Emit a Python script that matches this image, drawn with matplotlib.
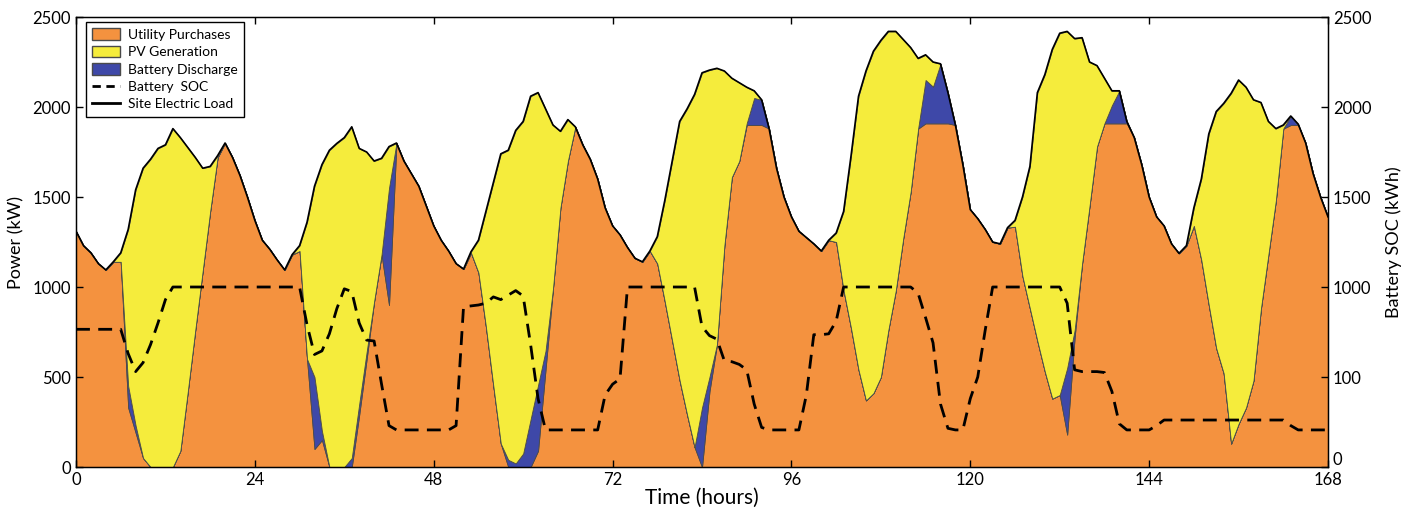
import numpy as np
import matplotlib
matplotlib.use('Agg')
import matplotlib.pyplot as plt
import matplotlib.transforms as mtransforms
from matplotlib.patches import Patch
from matplotlib.lines import Line2D

plt.rcParams['font.family'] = ['Lato', 'DejaVu Sans']

# hourly data, 0..168 h
hours = np.arange(169)

# site electric load (kW)
load = [
    1310, 1230, 1190, 1130, 1095, 1140, 1190, 1320, 1540, 1660, 1710, 1770,
    1790, 1880, 1830, 1775, 1720, 1660, 1670, 1730, 1800, 1720, 1620, 1500,
    1370, 1260, 1210, 1150, 1095, 1180, 1230, 1360, 1560, 1680, 1760, 1798,
    1830, 1890, 1770, 1750, 1700, 1715, 1780, 1800, 1700, 1630, 1560, 1450,
    1340, 1260, 1200, 1130, 1100, 1196, 1260, 1420, 1580, 1740, 1760, 1870,
    1920, 2060, 2080, 1990, 1900, 1865, 1930, 1890, 1790, 1710, 1600, 1440,
    1340, 1290, 1220, 1160, 1140, 1200, 1280, 1480, 1700, 1920, 1990, 2070,
    2190, 2205, 2215, 2200, 2160, 2135, 2110, 2090, 2040, 1880, 1660, 1500,
    1390, 1310, 1275, 1240, 1200, 1260, 1300, 1420, 1730, 2060, 2200, 2310,
    2370, 2420, 2420, 2375, 2330, 2270, 2290, 2250, 2240, 2080, 1900, 1680,
    1430, 1380, 1320, 1250, 1240, 1330, 1370, 1500, 1670, 2080, 2180, 2320,
    2410, 2420, 2380, 2385, 2250, 2230, 2160, 2090, 2090, 1920, 1830, 1680,
    1500, 1390, 1340, 1240, 1187, 1230, 1440, 1600, 1850, 1975, 2020, 2076,
    2150, 2110, 2040, 2025, 1920, 1880, 1900, 1950, 1905, 1800, 1630, 1500,
    1390,
]

# utility purchases (kW)
utility = [
    1310, 1230, 1190, 1130, 1095, 1140, 1140, 330, 190, 50, 0, 0,
    0, 0, 90, 420, 760, 1090, 1420, 1720, 1800, 1720, 1620, 1500,
    1370, 1260, 1210, 1150, 1095, 1180, 1200, 600, 100, 150, 0, 0,
    0, 0, 290, 600, 920, 1180, 900, 1800, 1700, 1630, 1560, 1450,
    1340, 1260, 1200, 1130, 1100, 1190, 1080, 780, 450, 130, 0, 0,
    0, 0, 90, 540, 990, 1440, 1700, 1890, 1790, 1710, 1600, 1440,
    1340, 1290, 1220, 1160, 1140, 1200, 1130, 920, 700, 480, 290, 110,
    0, 420, 680, 1230, 1610, 1700, 1900, 1900, 1900, 1880, 1660, 1500,
    1390, 1310, 1275, 1240, 1200, 1260, 1250, 980, 770, 540, 370, 410,
    500, 760, 980, 1270, 1530, 1880, 1909, 1909, 1909, 1909, 1900, 1680,
    1430, 1380, 1320, 1250, 1240, 1330, 1335, 1060, 880, 700, 530, 380,
    400, 180, 720, 1130, 1450, 1780, 1909, 1909, 1909, 1909, 1830, 1680,
    1500, 1390, 1340, 1240, 1187, 1230, 1340, 1150, 900, 660, 520, 130,
    240, 330, 480, 880, 1180, 1480, 1880, 1900, 1900, 1800, 1630, 1500,
    1390,
]

# battery discharge (kW)
battery = [
    0, 0, 0, 0, 0, 0, 0, 120, 40, 0, 0, 0,
    0, 0, 0, 0, 0, 0, 0, 0, 0, 0, 0, 0,
    0, 0, 0, 0, 0, 0, 0, 0, 400, 50, 0, 0,
    0, 50, 60, 40, 0, 0, 650, 0, 0, 0, 0, 0,
    0, 0, 0, 0, 0, 0, 0, 0, 0, 0, 40, 20,
    75, 265, 365, 105, 0, 0, 0, 0, 0, 0, 0, 0,
    0, 0, 0, 0, 0, 0, 0, 0, 0, 0, 0, 0,
    330, 80, 0, 0, 0, 0, 10, 150, 140, 0, 0, 0,
    0, 0, 0, 0, 0, 0, 0, 0, 0, 0, 0, 0,
    0, 0, 0, 0, 0, 0, 241, 204, 331, 171, 0, 0,
    0, 0, 0, 0, 0, 0, 0, 0, 0, 0, 0, 0,
    0, 370, 40, 0, 0, 0, 0, 100, 181, 11, 0, 0,
    0, 0, 0, 0, 0, 0, 0, 0, 0, 0, 0, 0,
    0, 0, 0, 0, 0, 0, 0, 50, 0, 0, 0, 0,
    0,
]

# battery state of charge (kWh)
soc = [
    765, 765, 765, 765, 765, 765, 765, 630, 530, 580, 680, 800,
    930, 1000, 1000, 1000, 1000, 1000, 1000, 1000, 1000, 1000, 1000, 1000,
    1000, 1000, 1000, 1000, 1000, 1000, 1000, 790, 625, 645, 740, 880,
    990, 975, 800, 705, 700, 460, 230, 206, 206, 206, 206, 206,
    206, 206, 206, 230, 890, 895, 900, 910, 945, 930, 955, 980,
    950, 680, 380, 206, 206, 206, 206, 206, 206, 206, 206, 400,
    460, 490, 1000, 1000, 1000, 1000, 1000, 1000, 1000, 1000, 1000, 1000,
    780, 730, 710, 590, 585, 570, 540, 350, 220, 206, 206, 206,
    206, 206, 400, 735, 735, 740, 810, 1000, 1000, 1000, 1000, 1000,
    1000, 1000, 1000, 1000, 1000, 965, 830, 690, 350, 215, 206, 206,
    380, 500, 760, 1000, 1000, 1000, 1000, 1000, 1000, 1000, 1000, 1000,
    1000, 910, 540, 530, 530, 530, 525, 420, 240, 206, 206, 206,
    206, 230, 261, 261, 261, 261, 261, 261, 261, 261, 261, 261,
    261, 261, 261, 261, 261, 261, 261, 230, 206, 206, 206, 206,
    206,
]

xticks = [0, 24, 48, 72, 96, 120, 144, 168]
left_ticks = [0, 500, 1000, 1500, 2000, 2500]
right_labels = ['0', '100', '1000', '1500', '2000', '2500']

c_util = '#F4923F'
c_pv = '#F5EC3C'
c_batt = '#3E48A8'
c_edge = '#4a4a4a'

load_a = np.array(load, dtype=float)
util_a = np.array(utility, dtype=float)
batt_a = np.array(battery, dtype=float)
top_b = util_a + batt_a

fig = plt.figure(figsize=(14.05, 5.09), dpi=100)
ax = fig.add_axes([0.0541, 0.0825, 0.8911, 0.8841])

ax.fill_between(hours, 0, util_a, facecolor=c_util, edgecolor=c_edge, lw=0.6)
ax.fill_between(hours, util_a, top_b, facecolor=c_batt, edgecolor=c_edge, lw=0.6)
ax.fill_between(hours, top_b, load_a, where=load_a >= top_b, interpolate=True,
                facecolor=c_pv, edgecolor=c_edge, lw=0.6)
ax.plot(hours, load_a, color='black', lw=1.2)

ax.set_xlim(0, 168)
ax.set_ylim(0, 2500)
ax.set_xticks(xticks)
ax.set_yticks(left_ticks)
ax.tick_params(direction='in', top=True, labelsize=12, length=5, width=1)
ax.set_xlabel('Time (hours)', fontsize=15, labelpad=0)
ax.set_ylabel('Power (kW)', fontsize=13, labelpad=6)
for s in ax.spines.values():
    s.set_linewidth(1.0)

ax2 = ax.twinx()
ax2.plot(hours, soc, color='black', lw=2, dashes=(5, 3))
ax2.set_ylim(0, 2500)
ax2.set_yticks(left_ticks)
ax2.set_yticklabels(right_labels)
ax2.tick_params(direction='in', labelsize=12, length=5, width=1)
ax2.set_ylabel('Battery SOC (kWh)', fontsize=13, labelpad=10)

# lift the right-hand "0" a little so it clears the 168 label
zero_lbl = ax2.get_yticklabels()[0]
zero_lbl.set_transform(zero_lbl.get_transform() +
                       mtransforms.ScaledTranslation(0, 6 / 72, fig.dpi_scale_trans))

handles = [
    Patch(facecolor=c_util, edgecolor=c_edge, label='Utility Purchases'),
    Patch(facecolor=c_pv, edgecolor=c_edge, label='PV Generation'),
    Patch(facecolor=c_batt, edgecolor=c_edge, label='Battery Discharge'),
    Line2D([], [], color='black', lw=2, dashes=(3, 2), label='Battery  SOC'),
    Line2D([], [], color='black', lw=2, label='Site Electric Load'),
]
leg = ax2.legend(handles=handles, loc='upper left', bbox_to_anchor=(0.008, 0.989),
                 borderaxespad=0, fontsize=10, fancybox=False, framealpha=1,
                 edgecolor='black', handlelength=2.0, handleheight=0.9,
                 labelspacing=0.35, borderpad=0.45, handletextpad=0.6)
leg.get_frame().set_linewidth(1.0)

fig.savefig('out.png', dpi=100)
